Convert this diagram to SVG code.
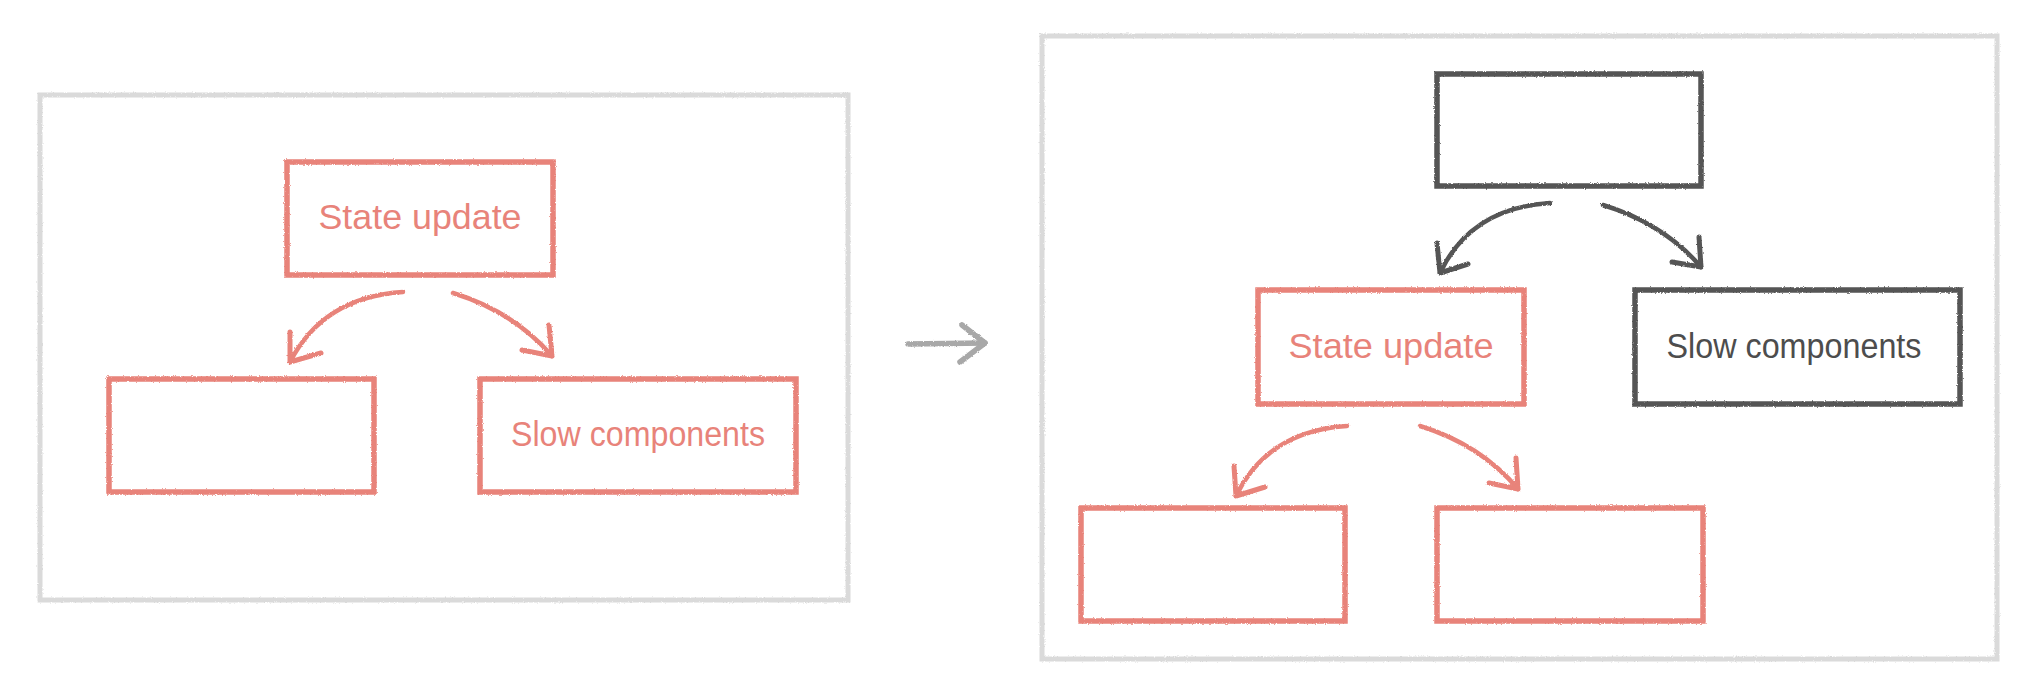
<svg xmlns="http://www.w3.org/2000/svg" width="2024" height="690" viewBox="0 0 2024 690">
  <defs>
    <filter id="rough" x="-5%" y="-5%" width="110%" height="110%">
      <feTurbulence type="fractalNoise" baseFrequency="0.9" numOctaves="2" seed="3" result="n"/>
      <feDisplacementMap in="SourceGraphic" in2="n" scale="2.5" xChannelSelector="R" yChannelSelector="G"/>
    </filter>
  </defs>
  <style>
    .frame { fill: none; stroke: #dadada; stroke-width: 5; }
    .box { fill: none; stroke-width: 5.5; stroke-linejoin: miter; }
    .red { stroke: #e8837a; }
    .dark { stroke: #555555; }
    .lbl { font-family: "Liberation Sans", "Open Sans", sans-serif; font-size: 35px; text-anchor: middle; }
    .lred { fill: #e8837a; }
    .ldark { fill: #4d4d4d; }
    .arr { fill: none; stroke-width: 4.5; stroke-linecap: round; stroke-linejoin: round; }
    .head { fill: none; stroke-width: 5; stroke-linecap: round; stroke-linejoin: round; }
    .gray { stroke: #a8a8a8; }
  </style>
  <rect width="2024" height="690" fill="#ffffff"/>

  <g id="frame-before" filter="url(#rough)">
    <rect class="frame" x="40" y="95" width="808" height="505"/>
  </g>
  <g id="frame-after" filter="url(#rough)">
    <rect class="frame" x="1042" y="36" width="955" height="623"/>
  </g>

  <!-- Left panel nodes -->
  <g id="before-state-update">
    <rect class="box red" x="287" y="162" width="266" height="113" filter="url(#rough)"/>
    <text class="lbl lred" x="420" y="229" textLength="203" lengthAdjust="spacingAndGlyphs">State update</text>
  </g>
  <g id="before-child">
    <rect class="box red" x="109" y="379" width="265" height="113" filter="url(#rough)"/>
  </g>
  <g id="before-slow-components">
    <rect class="box red" x="480" y="379" width="316" height="113" filter="url(#rough)"/>
    <text class="lbl lred" x="638" y="446" textLength="254" lengthAdjust="spacingAndGlyphs">Slow components</text>
  </g>

  <!-- Right panel nodes -->
  <g id="after-parent">
    <rect class="box dark" x="1437" y="74" width="264" height="112" filter="url(#rough)"/>
  </g>
  <g id="after-state-update">
    <rect class="box red" x="1258" y="290" width="266" height="114" filter="url(#rough)"/>
    <text class="lbl lred" x="1391" y="358" textLength="205" lengthAdjust="spacingAndGlyphs">State update</text>
  </g>
  <g id="after-slow-components">
    <rect class="box dark" x="1635" y="290" width="325" height="114" filter="url(#rough)"/>
    <text class="lbl ldark" x="1794" y="358" textLength="255" lengthAdjust="spacingAndGlyphs">Slow components</text>
  </g>
  <g id="after-child-1">
    <rect class="box red" x="1081" y="508" width="264" height="113" filter="url(#rough)"/>
  </g>
  <g id="after-child-2">
    <rect class="box red" x="1437" y="508" width="266" height="113" filter="url(#rough)"/>
  </g>

  <!-- Connectors -->
  <g id="connectors" filter="url(#rough)">
    <!-- left panel -->
    <path class="arr red" d="M403,292 Q323.5,297 290,362"/>
    <polyline class="head red" points="290,332 290,362 321,353"/>
    <path class="arr red" d="M453,293 Q513.5,311.5 552,356"/>
    <polyline class="head red" points="549,325 552,356 522,350"/>

    <!-- transition arrow -->
    <path class="arr gray" style="stroke-width:5.5" d="M908,344 L985,343"/>
    <polyline class="head gray" style="stroke-width:5.5" points="962,325 985,343 960,362"/>

    <!-- right panel, top -->
    <path class="arr dark" d="M1550,203 Q1470.5,208 1440,273"/>
    <polyline class="head dark" points="1437,243 1440,273 1468,264"/>
    <path class="arr dark" d="M1603,205 Q1663.5,223.5 1701,267"/>
    <polyline class="head dark" points="1699,237 1701,267 1672,262"/>

    <!-- right panel, bottom -->
    <path class="arr red" d="M1347,426 Q1267.5,431 1236,496"/>
    <polyline class="head red" points="1234,466 1236,496 1265,487"/>
    <path class="arr red" d="M1420,426 Q1480.5,444.5 1518,489"/>
    <polyline class="head red" points="1516,458 1518,489 1489,483"/>
  </g>
</svg>
